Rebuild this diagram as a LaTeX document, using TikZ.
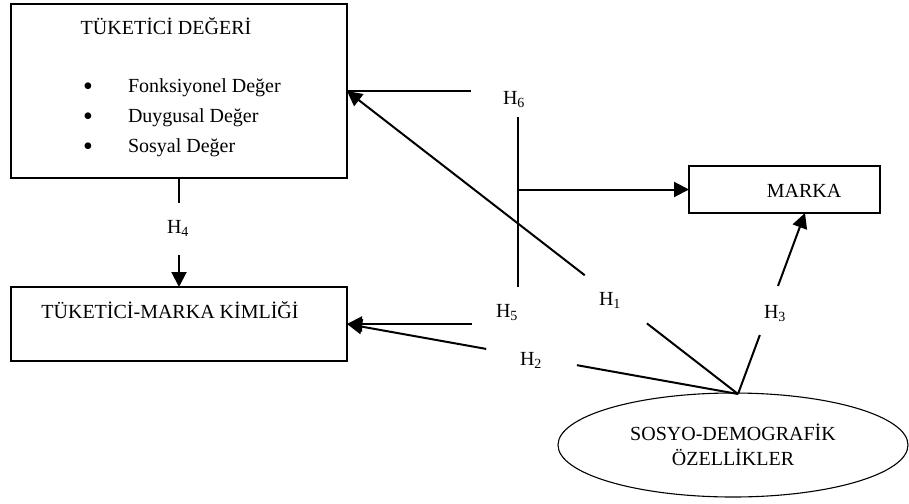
\documentclass[tikz,border=0pt]{standalone}
\usepackage{fontspec}
\setmainfont{Liberation Serif}
\usetikzlibrary{arrows.meta,shapes.geometric,calc}
\begin{document}
\begin{tikzpicture}[x=1pt,y=-1pt,
  box/.style={draw,line width=1.4pt,inner sep=0pt,outer sep=0pt},
  conn/.style={line width=2pt},
  arr/.style={conn,-{Triangle[length=15pt,width=15pt]}},
  txt/.style={font=\fontsize{20}{25}\selectfont,inner sep=0pt,outer sep=0pt},
  bul/.style={font=\fontsize{28}{28}\selectfont,inner sep=0pt,outer sep=0pt,anchor=center},
  hl/.style={txt,anchor=base}]
\useasboundingbox (0,0) rectangle (909,503);
% boxes
\node[box,minimum width=336pt,minimum height=174pt] (tv) at (179,91) {};
\node[box,minimum width=336pt,minimum height=74pt] (kb) at (179,324) {};
\node[box,minimum width=191pt,minimum height=47pt] (mk) at (784.5,189.5) {};
\node[draw,ellipse,line width=1.1pt,minimum width=350pt,minimum height=104pt,txt,align=center] (sd) at (733,445) {SOSYO-DEMOGRAFİK\\ÖZELLİKLER};
% texts
\node[hl] (t1) at (166,35) {TÜKETİCİ DEĞERİ};
\node[bul] (b1) at (88,89) {•};
\node[bul] (b2) at (88,119) {•};
\node[bul] (b3) at (88,149) {•};
\node[txt,anchor=base west] (i1) at (128,92) {Fonksiyonel Değer};
\node[txt,anchor=base west] (i2) at (128,122) {Duygusal Değer};
\node[txt,anchor=base west] (i3) at (128,152) {Sosyal Değer};
\node[hl] (t2) at (170,318) {TÜKETİCİ-MARKA KİMLİĞİ};
\node[hl] (t3) at (804,197) {MARKA};
% hypothesis labels
\node[hl] (H6) at (514,104) {H\textsubscript{6}};
\node[hl] (H5) at (507,317) {H\textsubscript{5}};
\node[hl] (H1) at (610,305) {H\textsubscript{1}};
\node[hl] (H2) at (531,365) {H\textsubscript{2}};
\node[hl] (H3) at (775,318) {H\textsubscript{3}};
\node[hl] (H4) at (178,233) {H\textsubscript{4}};
% coordinates
\coordinate (E) at (738,394);
\coordinate (M3) at ($(mk.south)+(20.5,0)$);
\coordinate (h6e) at (471,91);
\coordinate (vt) at (518,117);
\coordinate (vb) at (518,287);
\coordinate (h5s) at (472,324);
\coordinate (h4a) at (179,203);
\coordinate (h4b) at (179,255);
% H1
\draw[conn] (E) -- ($(E)!0.233!(tv.east)$);
\draw[arr] ($(E)!0.392!(tv.east)$) -- (tv.east);
% H2
\draw[conn] (E) -- ($(E)!0.412!(kb.east)$);
\draw[arr] ($(E)!0.644!(kb.east)$) -- (kb.east);
% H3
\draw[conn] (E) -- ($(E)!0.326!(M3)$);
\draw[arr] ($(E)!0.597!(M3)$) -- (M3);
% H4
\draw[conn] (tv.south) -- (h4a);
\draw[arr] (h4b) -- (kb.north);
% H5
\draw[arr] (h5s) -- (kb.east);
% H6
\draw[conn] (tv.east) -- (h6e);
\draw[conn] (vt) -- (vb);
\draw[arr] (vt |- mk.west) -- (mk.west);
\end{tikzpicture}
\end{document}
